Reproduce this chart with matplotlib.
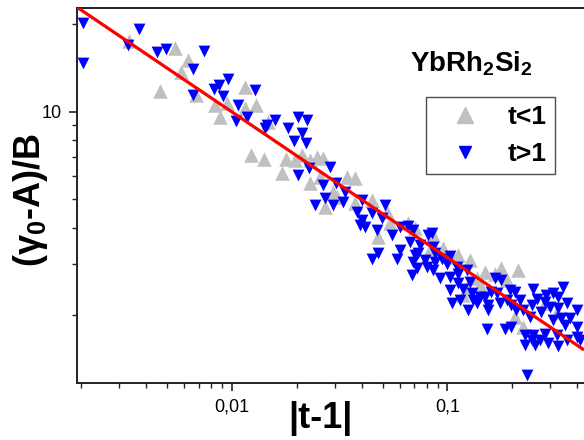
import matplotlib
matplotlib.use("Agg")
import matplotlib.pyplot as plt
from matplotlib.ticker import FixedLocator, FixedFormatter, NullFormatter
from matplotlib.lines import Line2D

plt.rcParams['font.family'] = ['Liberation Sans', 'DejaVu Sans']
plt.rcParams['mathtext.fontset'] = 'custom'
plt.rcParams['mathtext.rm'] = 'Liberation Sans:bold'
plt.rcParams['mathtext.bf'] = 'Liberation Sans:bold'
plt.rcParams['mathtext.default'] = 'bf'

# ---- data: t<1 (gray up triangles) ----
lo_x = [0.00332, 0.00542, 0.00625, 0.00582, 0.00462, 0.00683, 0.00831, 0.00877,
        0.0115, 0.0115, 0.0129, 0.00945, 0.0123, 0.0141, 0.0170, 0.0178, 0.0196,
        0.0211, 0.0230, 0.0247, 0.0265, 0.0230, 0.0256, 0.0341, 0.0372, 0.0295,
        0.0306, 0.0372, 0.0147, 0.0270, 0.0445, 0.0522, 0.0477, 0.0541, 0.0657,
        0.0858, 0.0829, 0.0955, 0.1045, 0.1121, 0.127, 0.1491, 0.178, 0.213,
        0.188, 0.1414, 0.1182, 0.205, 0.225, 0.321, 0.283,
        0.0706, 0.166, 0.1365, 0.1227]
lo_y = [17.5, 16.6, 15.0, 13.7, 11.8, 11.4, 10.5, 9.59,
        12.2, 10.3, 10.5, 10.7, 7.10, 6.86, 6.14, 6.86, 6.82,
        7.10, 6.82, 7.00, 6.92, 5.67, 5.98, 5.98, 5.90, 5.31,
        5.10, 4.84, 9.22, 4.71, 4.97, 4.53, 3.72, 4.14, 4.14,
        3.77, 3.35, 3.39, 3.17, 3.22, 3.09, 2.82, 2.90, 2.86,
        2.64, 2.54, 2.34, 1.97, 1.82, 2.05, 2.20,
        3.97, 2.78, 2.68, 2.50]

# ---- data: t>1 (blue down triangles) ----
hi_x = [0.00204, 0.00204, 0.00369, 0.00328, 0.00449, 0.00496, 0.00744, 0.00659,
        0.00659, 0.00822, 0.00868, 0.00955, 0.00909, 0.0107, 0.0104, 0.0128,
        0.0117, 0.0142, 0.0145, 0.0158, 0.0203, 0.0223, 0.0182, 0.0211, 0.0195,
        0.0221, 0.0228, 0.0203, 0.0285, 0.0265, 0.0304, 0.0334, 0.0243, 0.0270,
        0.0293, 0.0328, 0.0379, 0.0400, 0.0393, 0.0414, 0.0400, 0.0445, 0.0495,
        0.0512, 0.0469, 0.0551, 0.0602, 0.0657, 0.0669, 0.0602, 0.0585, 0.0445,
        0.0477, 0.0745, 0.0731, 0.0814, 0.0858, 0.0800, 0.0719, 0.0682, 0.0874,
        0.0922, 0.1026, 0.1026, 0.1102, 0.0844, 0.0874, 0.0858, 0.1026, 0.1045,
        0.0999, 0.1121, 0.1182, 0.1247, 0.127, 0.1316, 0.1414, 0.1491, 0.1545,
        0.166, 0.169, 0.175, 0.188, 0.195, 0.205, 0.217, 0.225, 0.241, 0.250,
        0.259, 0.288, 0.309, 0.344, 0.299, 0.326, 0.357, 0.397, 0.370, 0.338,
        0.309, 0.397, 0.283, 0.268, 0.246, 0.229, 0.229, 0.254, 0.293, 0.326,
        0.357, 0.397, 0.185, 0.198, 0.153, 0.233, 0.411,
        0.178, 0.326, 0.283, 0.273, 0.246, 0.160, 0.198, 0.250, 0.321, 0.350,
        0.209, 0.0693, 0.0706, 0.0786, 0.0939, 0.1121, 0.1227, 0.1294, 0.1141,
        0.1365, 0.1545, 0.0693]
hi_y = [20.2, 14.7, 19.3, 16.9, 16.0, 16.4, 16.1, 14.0,
        11.4, 12.0, 12.3, 12.9, 11.3, 10.5, 9.27, 11.9,
        9.61, 8.77, 9.00, 9.36, 9.56, 9.36, 8.77, 8.43, 7.93,
        7.79, 6.39, 6.06, 6.47, 5.60, 5.70, 5.31, 4.78, 5.04,
        4.78, 4.91, 4.53, 4.24, 4.08, 4.02, 4.97, 4.47, 4.30,
        4.78, 3.92, 3.77, 4.02, 4.05, 3.57, 3.35, 3.13, 3.13,
        3.26, 3.48, 3.26, 3.77, 3.43, 2.93, 2.90, 2.75, 3.05,
        2.68, 3.19, 2.71, 2.93, 3.82, 3.26, 2.86, 2.44, 2.20,
        3.01, 2.57, 2.47, 2.08, 2.60, 2.25, 2.31, 2.31, 2.08,
        2.68, 2.38, 2.20, 2.25, 2.44, 2.41, 2.25, 2.08, 1.97, 2.47,
        2.28, 2.34, 2.38, 2.50, 2.14, 2.11, 2.20, 2.08, 1.95, 1.95,
        1.92, 1.82, 1.73, 1.64, 1.64, 1.71, 1.58, 1.58, 1.60, 1.57,
        1.64, 1.68, 1.80, 1.82, 1.80, 1.25, 1.64,
        2.64, 2.31, 2.22, 2.05, 2.17, 2.41, 2.17, 1.71, 1.71, 1.85,
        2.08, 3.92, 3.22, 3.09, 3.13, 2.78, 2.86, 2.38, 2.25,
        2.20, 2.17, 3.05]

# ---- fit line ----
fit_x = [0.0019, 0.43]
fit_y = [22.9, 1.52]

x_major = [0.01, 0.1]
x_major_labels = ['0,01', '0,1']
x_minor = [0.002, 0.003, 0.004, 0.005, 0.006, 0.007, 0.008, 0.009,
           0.02, 0.03, 0.04, 0.05, 0.06, 0.07, 0.08, 0.09,
           0.2, 0.3, 0.4]
y_major = [10]
y_major_labels = ['10']
y_minor = [2, 3, 4, 5, 6, 7, 8, 9, 20]

fig = plt.figure(figsize=(5.84, 4.40), dpi=100)
ax = fig.add_axes([77/584, 1-383/440, 1-77/584, (383-8)/440])
ax.set_xscale('log')
ax.set_yscale('log')
ax.set_xlim(0.00191, 0.43)
ax.set_ylim(1.17, 22.7)

ax.scatter(lo_x, lo_y, marker='^', s=110, color='#c0c0c0', linewidths=0, zorder=2)
ax.scatter(hi_x, hi_y, marker='v', s=72, color='#0000ff', linewidths=0, zorder=3)
ax.plot(fit_x, fit_y, color='#ff0000', lw=2.3, zorder=4, solid_capstyle='butt')

ax.xaxis.set_major_locator(FixedLocator(x_major))
ax.xaxis.set_major_formatter(FixedFormatter(x_major_labels))
ax.xaxis.set_minor_locator(FixedLocator(x_minor))
ax.xaxis.set_minor_formatter(NullFormatter())
ax.yaxis.set_major_locator(FixedLocator(y_major))
ax.yaxis.set_major_formatter(FixedFormatter(y_major_labels))
ax.yaxis.set_minor_locator(FixedLocator(y_minor))
ax.yaxis.set_minor_formatter(NullFormatter())

ax.tick_params(which='major', direction='out', length=6, width=1.2, labelsize=13, pad=5, color='#222222')
ax.tick_params(which='minor', direction='out', length=3.5, width=1.0, color='#222222')
ax.tick_params(top=False, right=False, which='both')
for side in ['left', 'bottom', 'top']:
    ax.spines[side].set_linewidth(1.4)
    ax.spines[side].set_color('#222222')
ax.spines['right'].set_visible(False)

fig.text(320/584, 1-418/440, '|t-1|', fontsize=26, fontweight='bold',
         ha='center', va='center')
fig.text(31/584, 1-200/440, '(γ$_{0}$-A)/B', fontsize=26, fontweight='bold',
         ha='center', va='center', rotation=90)

fig.text(471/584, 1-64/440, 'YbRh$_2$Si$_2$', fontsize=20, fontweight='bold',
         ha='center', va='center')

handles = [Line2D([], [], marker='^', ls='none', color='#c0c0c0', markersize=11),
           Line2D([], [], marker='v', ls='none', color='#0000ff', markersize=8.5)]
leg = ax.legend(handles, ['t<1', 't>1'], loc='upper left',
                bbox_to_anchor=(426/584, 1-97/440), bbox_transform=fig.transFigure,
                prop={'size': 19, 'weight': 'bold'}, frameon=True, fancybox=False,
                borderpad=0.3, handlelength=2.35, handletextpad=0.45,
                labelspacing=0.5, borderaxespad=0, numpoints=1)
leg.get_frame().set_edgecolor('#222222')
leg.get_frame().set_linewidth(1.0)

fig.savefig('out.png', dpi=100)
